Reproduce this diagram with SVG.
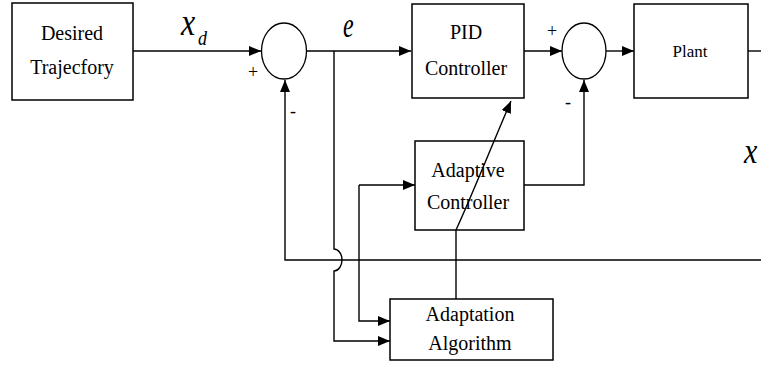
<svg xmlns="http://www.w3.org/2000/svg" width="761" height="366" viewBox="0 0 761 366">
<defs>
<style>
.box{fill:none;stroke:#000;stroke-width:1.5}
.sum{fill:#fff;stroke:#000;stroke-width:1.3}
.ln{fill:none;stroke:#000;stroke-width:1.4}
text{font-family:'Liberation Serif','DejaVu Serif',serif;fill:#000}
.t{font-size:20px;text-anchor:middle}
.s{font-size:18px;text-anchor:middle}
.v{font-style:italic}
</style>
<marker id="ah" markerUnits="userSpaceOnUse" markerWidth="13" markerHeight="11" refX="12" refY="5" orient="auto">
<path d="M0,0 L12,5 L0,10 z" fill="#000"/>
</marker>
</defs>
<rect width="761" height="366" fill="#fff"/>
<g id="connectors">
<path class="ln" d="M133,51 H261" marker-end="url(#ah)"/>
<path class="ln" d="M306,51 H411" marker-end="url(#ah)"/>
<path class="ln" d="M524,51 H562" marker-end="url(#ah)"/>
<path class="ln" d="M606,51 H634" marker-end="url(#ah)"/>
<path class="ln" d="M748,51 H761"/>
<path class="ln" d="M761,260 H285 V80" marker-end="url(#ah)"/>
<path class="ln" d="M334,51 V249 A8,11 0 0 1 334,271 V341 H390" marker-end="url(#ah)"/>
<path class="ln" d="M359,185 H415" marker-end="url(#ah)"/>
<path class="ln" d="M359,185 V321 H390" marker-end="url(#ah)"/>
<path class="ln" d="M524,185 H584 V80" marker-end="url(#ah)"/>
<path class="ln" d="M456,299 V230 C470,200 490,150 511,101" marker-end="url(#ah)"/>
</g>
<g id="desired">
<rect class="box" x="12" y="3" width="121" height="97"/>
<text class="t" x="72" y="40">Desired</text>
<text class="t" x="72" y="74">Trajecfory</text>
</g>
<g id="sum1">
<ellipse class="sum" cx="284" cy="51" rx="22.5" ry="28"/>
<text class="s" x="253" y="78">+</text>
<text class="s" x="293" y="117">-</text>
</g>
<g id="pid">
<rect class="box" x="412" y="4" width="112" height="94"/>
<text class="t" x="466" y="39">PID</text>
<text class="t" x="466" y="75">Controller</text>
</g>
<g id="sum2">
<ellipse class="sum" cx="584" cy="51" rx="22" ry="28"/>
<text class="s" x="552" y="37">+</text>
<text class="s" x="568" y="108">-</text>
</g>
<g id="plant">
<rect class="box" x="634" y="4" width="114" height="94"/>
<text class="t" x="690" y="57" style="font-size:17px">Plant</text>
</g>
<g id="adaptive">
<rect class="box" x="415" y="141" width="109" height="89"/>
<text class="t" x="468" y="177">Adaptive</text>
<text class="t" x="468" y="209">Controller</text>
</g>
<g id="adaptation">
<rect class="box" x="390" y="299" width="163" height="61"/>
<text class="t" x="470" y="321">Adaptation</text>
<text class="t" x="470" y="350">Algorithm</text>
</g>
<g id="labels">
<text class="v" transform="translate(181,35) scale(1,1.2)" font-size="32">x</text>
<text class="v" transform="translate(198,45) scale(1,1.2)" font-size="18">d</text>
<text class="v" transform="translate(343,37) scale(1,1.5)" font-size="24">e</text>
<text class="v" transform="translate(744,163) scale(1,1.2)" font-size="30">x</text>
</g>
</svg>
